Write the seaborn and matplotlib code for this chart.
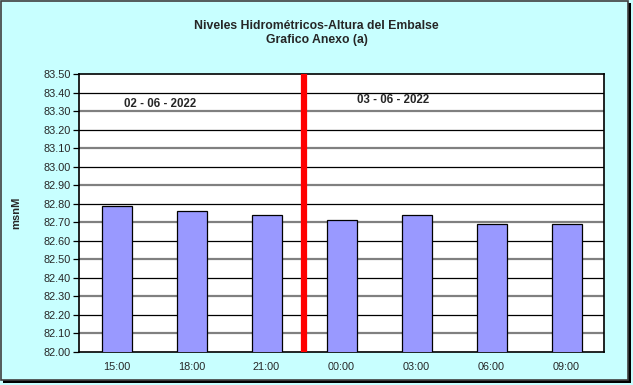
import matplotlib
matplotlib.use("Agg")
import matplotlib.pyplot as plt
import seaborn as sns
import pandas as pd
import numpy as np
from matplotlib.patches import Rectangle

horas = ["15:00", "18:00", "21:00", "00:00", "03:00", "06:00", "09:00"]
niveles = [82.79, 82.76, 82.74, 82.71, 82.74, 82.69, 82.69]
fechas = ["02 - 06 - 2022", "03 - 06 - 2022"]
titulo = "Niveles Hidrométricos-Altura del Embalse\nGrafico Anexo (a)"
y_ticks = [82.00, 82.10, 82.20, 82.30, 82.40, 82.50, 82.60, 82.70, 82.80, 82.90,
           83.00, 83.10, 83.20, 83.30, 83.40, 83.50]

df = pd.DataFrame({"hora": horas, "nivel": niveles})

sns.set_theme(style="white")
plt.rcParams['font.family'] = ['Liberation Sans', 'DejaVu Sans']

bg = "#C8FFFF"
fig = plt.figure(figsize=(6.33, 3.85), dpi=100, facecolor=bg)
# figure border with shadow
fig.patches.append(Rectangle((3/633, 1 - 383/385), 628/633, 380/385, transform=fig.transFigure,
                             facecolor="#000000", edgecolor="none", zorder=-2))
fig.patches.append(Rectangle((0.5/633, 1 - 380/385), 627/633, 379.5/385, transform=fig.transFigure,
                             facecolor=bg, edgecolor="#404040", linewidth=1.2, zorder=-1))

ax = fig.add_axes([79/633, 1 - 352/385, 525/633, 278/385])
ax.set_facecolor("white")

# grid lines
for v in y_ticks[1:-1]:
    k = int(round(v * 10)) % 2
    ax.axhline(v, color="#808080" if k == 1 else "black",
               linewidth=1.6 if k == 1 else 0.9, zorder=0)

sns.barplot(data=df, x="hora", y="nivel", ax=ax, color="#9999FF", width=0.4,
            edgecolor="black", linewidth=0.9, saturation=1, zorder=3)

ax.set_ylim(82.0, 83.5)
ax.set_xlim(-0.5, len(horas) - 0.5)
ax.set_yticks(y_ticks)
ax.set_yticklabels([f"{v:.2f}" for v in y_ticks], fontsize=7.8)
ax.set_xticks(range(len(horas)))
ax.set_xticklabels(horas, fontsize=7.8)
ax.tick_params(axis="x", length=0, pad=7)
ax.set_xticks(np.arange(len(horas) + 1) - 0.5, minor=True)
ax.tick_params(axis="x", which="minor", length=4, width=0.9, color="black", direction="out")
ax.tick_params(axis="y", length=4, width=0.9, color="black", direction="out", pad=2, left=True)
ax.set_xlabel("")
ax.set_ylabel("msnM", fontsize=8, fontweight="bold")
ax.yaxis.set_label_coords(-0.11, 0.5)
for s in ax.spines.values():
    s.set_color("black")
    s.set_linewidth(1.2)
    s.set_visible(True)

# day separator
sep = horas.index("00:00") - 0.5
ax.axvline(sep, color="#FF0000", linewidth=4.5, zorder=5)

ax.text(0.58, 83.34, fechas[0], ha="center", va="center", fontsize=8.3, fontweight="bold", zorder=6)
ax.text(3.69, 83.36, fechas[1], ha="center", va="center", fontsize=8.3, fontweight="bold", zorder=6)

fig.text(0.5, 1 - 33/385, titulo, ha="center", va="center", fontsize=8.8, fontweight="bold",
         linespacing=1.2)

fig.savefig("out.png", dpi=100, facecolor=bg)
